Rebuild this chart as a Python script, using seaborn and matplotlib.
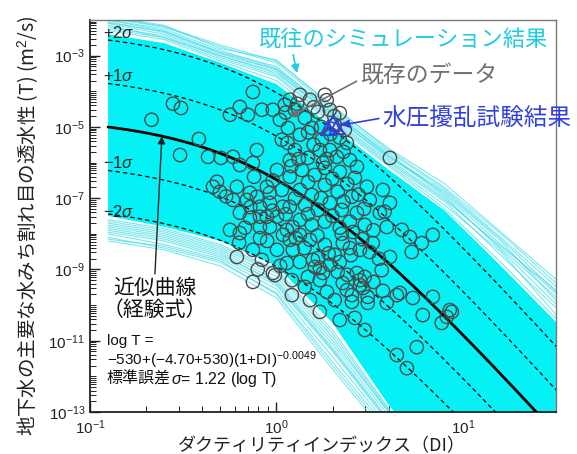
import numpy as np
import pandas as pd
import matplotlib
matplotlib.use("Agg")
import matplotlib.pyplot as plt
from matplotlib.ticker import FixedLocator, LogLocator, LogFormatterSciNotation, NullFormatter
import seaborn as sns

sns.set_theme(style="ticks")
plt.rcParams["font.family"] = ["Liberation Sans", "Noto Sans CJK JP"]
plt.rcParams["mathtext.fontset"] = "custom"
plt.rcParams["mathtext.rm"] = "Liberation Sans"
plt.rcParams["mathtext.it"] = "Liberation Sans:italic"
plt.rcParams["mathtext.bf"] = "Liberation Sans:bold"
plt.rcParams["axes.unicode_minus"] = True
JP = ["Noto Sans CJK JP", "Liberation Sans"]

# ---------------- empirical curve: log T = a + (b - a)(1 + DI)^c ----------------
coef_a = -530.0
coef_b = -4.70
coef_c = -0.0049
sigma = 1.22
sigma_levels = [2, 1, -1, -2]
di_range = [0.125, 32.0]

# ---------------- earlier simulation results (log10 T at the DI nodes) ----------------
sim_di = [0.125, 0.25, 0.5, 1, 2, 4, 8, 16, 32]
sim_core_upper = [-2.4, -2.65, -3.2, -3.8, -5.0, -6.2, -7.35, -8.9, -10.5]
sim_core_lower = [-7.5, -7.8, -8.2, -8.9, -10.5, -12.8, -14.8, -16.5, -18.0]
sim_upper_lines = [
    [-1.90, -2.15, -2.80, -3.12, -4.45, -5.60, -6.60, -7.95, -9.30],
    [-1.95, -2.20, -2.75, -3.20, -4.50, -5.70, -6.75, -8.10, -9.50],
    [-2.00, -2.30, -2.90, -3.30, -4.60, -5.75, -6.90, -8.30, -9.70],
    [-2.05, -2.35, -2.95, -3.40, -4.70, -5.85, -6.85, -8.20, -9.90],
    [-2.10, -2.40, -3.00, -3.50, -4.65, -5.90, -7.00, -8.40, -9.80],
    [-2.20, -2.45, -3.05, -3.55, -4.80, -6.00, -7.10, -8.60, -10.10],
    [-2.25, -2.50, -3.10, -3.60, -4.85, -6.05, -7.20, -8.50, -10.30],
    [-2.30, -2.55, -3.15, -3.70, -4.90, -6.10, -7.30, -8.80, -10.40],
    [-2.00, -2.25, -2.85, -3.35, -4.55, -5.80, -6.95, -8.45, -10.00],
    [-2.15, -2.50, -3.00, -3.45, -4.75, -5.95, -7.05, -8.35, -9.60],
    [-1.92, -2.18, -2.70, -3.15, -4.40, -5.65, -6.70, -8.00, -9.40],
    [-2.08, -2.32, -2.92, -3.38, -4.62, -5.82, -6.80, -8.15, -9.65],
]
sim_lower_lines = [
    [-8.20, -8.45, -8.90, -9.80, -11.80, -13.70, -15.6, -17.4, -19.0],
    [-8.10, -8.40, -8.80, -9.65, -11.60, -13.50, -15.4, -17.2, -19.0],
    [-8.00, -8.30, -8.70, -9.55, -11.45, -13.40, -15.3, -17.1, -19.0],
    [-7.95, -8.20, -8.65, -9.45, -11.30, -13.30, -15.2, -17.0, -19.0],
    [-7.90, -8.15, -8.60, -9.35, -11.20, -13.20, -15.1, -17.0, -19.0],
    [-7.80, -8.05, -8.50, -9.30, -11.10, -13.10, -15.0, -17.0, -19.0],
    [-7.75, -8.00, -8.45, -9.20, -11.00, -13.00, -15.0, -17.0, -19.0],
    [-7.70, -7.95, -8.40, -9.10, -10.90, -13.00, -14.9, -16.8, -18.5],
    [-7.65, -7.90, -8.35, -9.05, -10.80, -12.95, -14.9, -16.8, -18.5],
    [-7.60, -7.85, -8.30, -9.00, -10.70, -12.90, -14.8, -16.7, -18.5],
    [-8.15, -8.35, -8.75, -9.70, -11.70, -13.60, -15.5, -17.3, -19.0],
    [-7.85, -8.10, -8.55, -9.40, -11.25, -13.25, -15.1, -17.0, -19.0],
]

# ---------------- existing data (log10 DI, log10 T) ----------------
data_log_di = [
    -0.670, -0.555, -0.512, -0.416, -0.517, -0.367, -0.298, -0.233, -0.249, -0.196,
    -0.153, -0.126, -0.078, -0.019, 0.019, 0.029, -0.105, -0.126, -0.196, -0.319,
    -0.340, -0.303, -0.233, -0.158, -0.105, -0.088, -0.196, -0.051, 0.003, 0.072,
    -0.051, 0.072, 0.088, -0.212, -0.142, -0.035, 0.029, -0.142, -0.088, 0.003,
    -0.035, 0.035, -0.249, -0.196, -0.169, -0.088, -0.035, -0.212, -0.126, -0.078,
    0.003, -0.008, -0.126, -0.019, 0.083, 0.056, 0.035, 0.104, -0.088, 0.072,
    0.126, 0.099, 0.153, 0.062, 0.126, 0.190, 0.223, 0.287, 0.340, 0.244,
    0.099, 0.169, 0.233, 0.287, 0.324, 0.394, 0.378, 0.072, 0.137, 0.206,
    0.260, 0.340, 0.421, 0.485, 0.405, 0.501, 0.555, 0.609, 0.432, 0.126,
    0.190, 0.260, 0.329, 0.153, 0.223, 0.287, 0.351, 0.126, 0.190, 0.260,
    0.340, 0.394, 0.474, 0.072, 0.356, 0.394, 0.448, 0.501, 0.517, 0.196,
    0.223, 0.206, 0.233, 0.169, 0.271, 0.233, 0.329, 0.356, 0.378, 0.405,
    0.448, 0.464, 0.490, 0.432, 0.448, 0.474, 0.421, 0.474, 0.405, 0.592,
    0.565, 0.609, 0.662, 0.732, 0.785, 0.839, 0.887, 0.930, 0.914, 0.941,
    0.753, 0.646, 0.700, 0.726, 0.780, 0.716, 0.839, 0.609, 0.571, 0.581,
    0.592, 0.673, 0.056, 0.126, 0.180, 0.260, 0.313, 0.088, 0.126, 0.287,
    0.340, 0.153, 0.313, 0.340, 0.233, 0.180, 0.083, 0.045, 0.180, 0.260,
    0.313, 0.367, 0.249, 0.432, 0.646, 0.490, 0.571,
    0.050, 0.110, 0.200, 0.270, 0.310, 0.170, 0.240, 0.290, 0.060, 0.200,
    0.340, 0.120, 0.270, 0.360, 0.080, 0.170, 0.300, 0.380, 0.440, 0.100,
    0.240, 0.360, 0.470, 0.050, 0.170, 0.300, 0.410, 0.520, 0.220, 0.350,
    0.460, 0.150, 0.280, 0.400, 0.550, 0.250, 0.380, 0.520, -0.270, -0.120,
    -0.020, -0.140, -0.020, -0.200, -0.050, 0.020, -0.100,
]
data_log_t = [
    -4.80, -4.35, -4.47, -5.34, -5.79, -5.84, -5.87, -5.84, -4.66, -4.44,
    -4.66, -4.02, -4.52, -4.52, -4.80, -5.36, -5.65, -6.01, -6.07, -6.54,
    -6.68, -6.82, -7.05, -7.05, -6.96, -7.24, -7.41, -6.68, -6.21, -6.40,
    -7.52, -7.24, -7.81, -6.68, -6.85, -6.85, -6.77, -7.55, -7.52, -7.52,
    -7.13, -7.24, -7.89, -7.98, -7.83, -7.81, -7.81, -8.65, -8.45, -8.73,
    -8.45, -9.16, -9.35, -9.10, -9.30, -8.82, -8.03, -8.12, -8.12, -4.24,
    -4.10, -4.52, -4.75, -5.03, -5.22, -5.03, -4.58, -4.52, -4.61, -5.36,
    -5.65, -5.87, -5.65, -5.65, -5.84, -5.93, -5.45, -5.93, -6.21, -6.35,
    -6.15, -6.26, -6.43, -6.68, -6.96, -7.05, -7.41, -7.13, -7.41, -6.77,
    -6.91, -6.63, -6.82, -7.19, -7.33, -7.13, -7.33, -7.61, -7.75, -7.66,
    -7.83, -7.66, -7.75, -8.17, -8.26, -8.40, -8.45, -8.51, -8.26, -8.73,
    -8.68, -8.93, -8.96, -9.21, -9.63, -10.19, -9.07, -9.38, -9.58, -9.72,
    -9.44, -9.52, -9.77, -9.10, -9.30, -9.21, -10.36, -10.70, -9.91, -9.94,
    -9.02, -8.65, -9.66, -9.80, -10.28, -9.77, -10.50, -10.14, -10.33, -10.19,
    -11.18, -11.40, -11.77, -8.51, -8.26, -8.09, -8.03, -5.87, -6.77, -7.38,
    -7.81, -7.89, -7.89, -8.03, -8.17, -8.31, -8.59, -8.45, -8.79, -8.87,
    -8.79, -9.49, -9.86, -10.42, -9.30, -9.86, -9.72, -4.38, -4.24, -4.10,
    -4.94, -5.08, -6.01, -6.12, -9.72, -9.94, -9.60,
    -4.60, -4.35, -4.45, -4.25, -4.70, -5.15, -5.00, -5.20, -5.45, -5.50,
    -5.30, -5.90, -5.90, -5.70, -6.10, -6.55, -6.45, -6.60, -6.90, -7.00,
    -7.00, -7.10, -7.30, -7.45, -7.45, -7.50, -7.95, -7.90, -8.05, -8.00,
    -8.15, -8.40, -8.55, -8.60, -8.70, -9.10, -9.15, -9.35, -6.95, -6.40,
    -6.50, -7.25, -7.35, -8.25, -8.20, -8.90, -9.00,
]

# ---------------- hydraulic disturbance test results ----------------
test_di = [1.89, 2.01, 2.11]
test_log_t = [-5.03, -4.89, -5.00]

# ---------------- axes ticks ----------------
x_major = [0.1, 1.0, 10.0]
y_major = [1e-13, 1e-11, 1e-9, 1e-7, 1e-5, 1e-3]
x_lim = (0.1, 10 ** 1.5)
y_lim = (1e-13, 1e-2)

fig = plt.figure(figsize=(5.77, 4.54), dpi=100)
ax = fig.add_axes([0.156, 0.0925, 0.8076, 0.8635])
ax.set_xscale("log")
ax.set_yscale("log")

cyan_core = "#04F2F6"
cyan_line = "#45DDE8"

# simulation band
sim_di_arr = np.array(sim_di)
ax.fill_between(sim_di_arr, 10 ** np.array(sim_core_lower), 10 ** np.array(sim_core_upper),
                color=cyan_core, lw=0, zorder=1)
rows = []
for k, line in enumerate(sim_upper_lines + sim_lower_lines):
    for d, v in zip(sim_di, line):
        rows.append({"DI": d, "T": 10 ** v, "run": k})
sim_df = pd.DataFrame(rows)
sns.lineplot(data=sim_df, x="DI", y="T", units="run", estimator=None, sort=False,
             color=cyan_line, lw=0.8, alpha=0.7, legend=False, ax=ax, zorder=2)

# empirical curve and +/- sigma bands
di_fine = np.geomspace(di_range[0], di_range[1], 300)
log_fit = coef_a + (coef_b - coef_a) * (1 + di_fine) ** coef_c
for lev in sigma_levels:
    sns.lineplot(x=di_fine, y=10 ** (log_fit + lev * sigma), color="black", lw=0.9,
                 ax=ax, zorder=3, legend=False)
    ax.lines[-1].set_dashes([3.5, 2.5])
sns.lineplot(x=di_fine, y=10 ** log_fit, color="black", lw=2.0, ax=ax, zorder=3.5)

# existing data
sns.scatterplot(x=10 ** np.array(data_log_di), y=10 ** np.array(data_log_t), marker="o",
                s=92, color="#505050", linewidth=1.0, ax=ax, zorder=4, legend=False)
ax.collections[-1].set_facecolor("none")
ax.collections[-1].set_edgecolor("#4a4a4a")

# hydraulic disturbance tests
sns.scatterplot(x=test_di, y=10 ** np.array(test_log_t), marker="^", s=110,
                color="#3040E0", linewidth=1.3, ax=ax, zorder=5, legend=False)
ax.collections[-1].set_facecolor("none")
ax.collections[-1].set_edgecolor("#3040E0")

ax.set_xlim(*x_lim)
ax.set_ylim(*y_lim)

# ticks
ax.xaxis.set_major_locator(FixedLocator(x_major))
ax.yaxis.set_major_locator(FixedLocator(y_major))
ax.xaxis.set_major_formatter(LogFormatterSciNotation())
ax.yaxis.set_major_formatter(LogFormatterSciNotation())
ax.xaxis.set_minor_locator(LogLocator(base=10, subs=np.arange(2, 10), numticks=50))
ax.yaxis.set_minor_locator(LogLocator(base=10, subs=np.arange(1, 10), numticks=50))
ax.xaxis.set_minor_formatter(NullFormatter())
ax.yaxis.set_minor_formatter(NullFormatter())
ax.tick_params(which="both", direction="in", top=False, right=False, colors="#222222",
               labelsize=11)
ax.tick_params(axis="x", which="major", pad=4.5)
ax.tick_params(which="major", length=7, width=1.0)
ax.tick_params(which="minor", length=4, width=0.7)
for s in ("left", "bottom"):
    ax.spines[s].set_color("#222222")
    ax.spines[s].set_linewidth(1.3)
for s in ("top", "right"):
    ax.spines[s].set_color("#777777")
    ax.spines[s].set_linewidth(1.0)

# axis labels
ax.set_xlabel("ダクティリティインデックス（DI）", family=JP, fontsize=13, color="#222222")
ax.xaxis.set_label_coords(0.498, -0.064)
ax.set_ylabel("地下水の主要な水みち割れ目の透水性 (T) (m$^2$/s)", family=JP, fontsize=14,
              color="#222222")
ax.yaxis.set_label_coords(-0.107, 0.474)

# sigma labels
for lev, yf in zip(sigma_levels, [0.968, 0.858, 0.634, 0.510]):
    sign = "+" if lev > 0 else "-"
    ax.text(0.028, yf, rf"${sign}{abs(lev)}\sigma$", transform=ax.transAxes,
            fontsize=12, color="#222222", ha="left", va="center", zorder=6)

# annotations
ax.annotate("既往のシミュレーション結果", xy=(1.29, 10 ** -3.49), xycoords="data",
            xytext=(0.36, 0.949), textcoords="axes fraction", ha="left", va="center",
            family=JP, fontsize=16, color="#22CCE0", zorder=7,
            arrowprops=dict(arrowstyle="-|>", color="#22CCE0", lw=1.2,
                            mutation_scale=12, shrinkA=0, shrinkB=0,
                            relpos=(0.12, 0.0)))
ax.annotate("既存のデータ", xy=(1.18, 10 ** -4.72), xycoords="data",
            xytext=(0.579, 0.857), textcoords="axes fraction", ha="left", va="center",
            family=JP, fontsize=16.5, color="#707070", zorder=7,
            arrowprops=dict(arrowstyle="-|>", color="#707070", lw=1.2,
                            mutation_scale=12, shrinkA=0, shrinkB=0,
                            relpos=(0.0, 0.35)))
ax.annotate("水圧擾乱試験結果", xy=(2.22, 10 ** -4.95), xycoords="data",
            xytext=(0.627, 0.75), textcoords="axes fraction", ha="left", va="center",
            family=JP, fontsize=17, color="#3040E0", zorder=7, annotation_clip=False,
            arrowprops=dict(arrowstyle="-|>", color="#3040E0", lw=1.2,
                            mutation_scale=12, shrinkA=0, shrinkB=0,
                            relpos=(0.0, 0.5)))
ax.annotate("近似曲線\n（経験式）", xy=(0.243, 10 ** -5.26), xycoords="data",
            xytext=(0.139, 0.344), textcoords="axes fraction", ha="center", va="top",
            family=JP, fontsize=15, color="#111111", zorder=7, linespacing=1.0,
            arrowprops=dict(arrowstyle="-|>", color="#222222", lw=1.0,
                            mutation_scale=11, shrinkA=0, shrinkB=0,
                            relpos=(0.5, 1.0)))

# regression formula
ax.text(0.036, 0.180, "log T =", transform=ax.transAxes, fontsize=11,
        color="#111111", ha="left", va="center", zorder=7)
ax.text(0.036, 0.133, r"$-530$+($-$4.70+530)(1+DI)$^{-0.0049}$", transform=ax.transAxes,
        fontsize=11, color="#111111", ha="left", va="center", zorder=7)
t_se = ax.text(0.036, 0.084, "標準誤差", transform=ax.transAxes, family=JP, fontsize=11.5,
               color="#111111", ha="left", va="center", zorder=7)
ax.annotate(r"$\sigma$= 1.22 (log T)", xy=(1.0, 0.5), xycoords=t_se, ha="left",
            va="center", fontsize=11.5, color="#111111", zorder=7)

fig.savefig("out.png", dpi=100)
